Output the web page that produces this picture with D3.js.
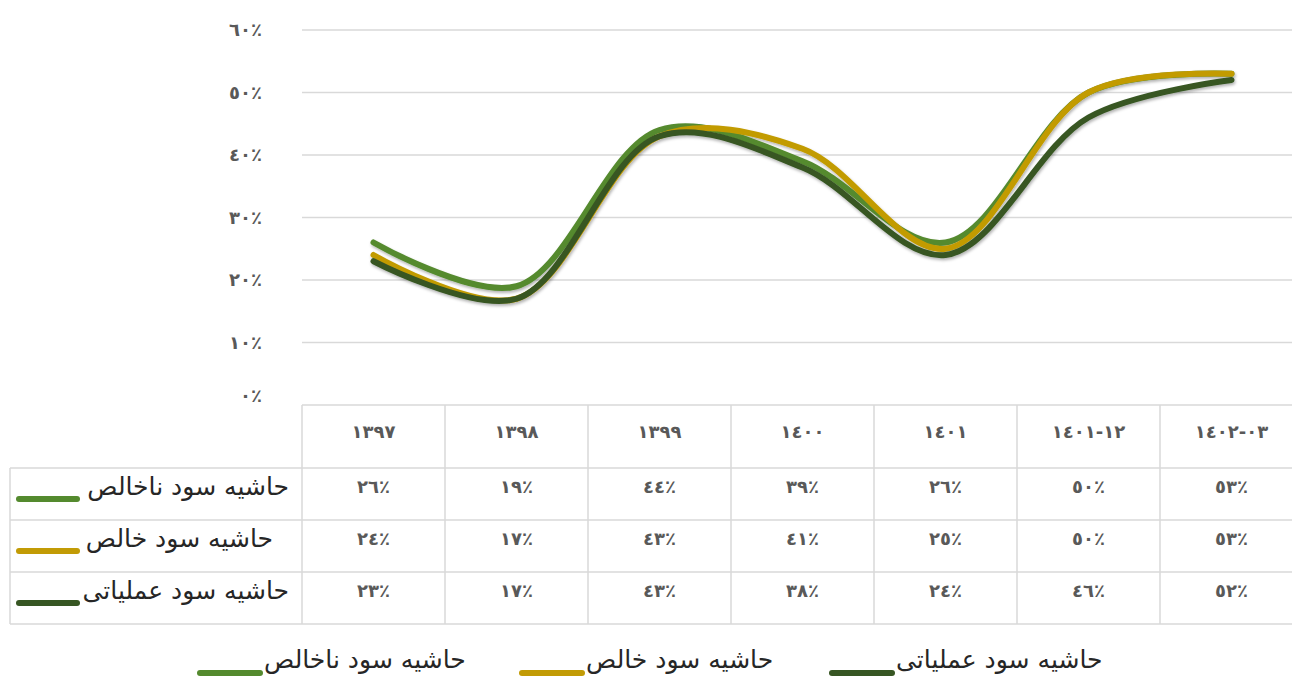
<!DOCTYPE html>
<html>
<head>
<meta charset="utf-8">
<script src="https://cdn.jsdelivr.net/npm/d3@7"></script>
<style>
  body { margin: 0; background: #fff; }
  svg { display: block; font-family: "DejaVu Sans", "Noto Sans", sans-serif; }
  .num { direction: ltr; unicode-bidi: bidi-override; font-weight: bold; }
</style>
</head>
<body>
<svg id="chart" width="1292" height="682"></svg>
<script>
// categories (years) and the three margin series, in percent
var years = ["1397", "1398", "1399", "1400", "1401", "1401-12", "1402-03"];
var grossMargin = [26, 19, 44, 39, 26, 50, 53];
var netMargin = [24, 17, 43, 41, 25, 50, 53];
var operatingMargin = [23, 17, 43, 38, 24, 46, 52];
var seriesNames = ["حاشیه سود ناخالص", "حاشیه سود خالص", "حاشیه سود عملیاتی"];
var seriesColors = ["#548a2e", "#c29b05", "#375623"];
var yTicks = [0, 10, 20, 30, 40, 50, 60];

var series = [grossMargin, netMargin, operatingMargin].map(function(v, i) {
    return { name: seriesNames[i], color: seriesColors[i], values: v };
});

// western digits -> arabic-indic digits
function toArabicDigits(s) {
    return String(s).replace(/[0-9]/g, function(d) { return "٠١٢٣٤٥٦٧٨٩"[+d]; });
}
function pct(v) { return toArabicDigits(v) + "٪"; }

var svg = d3.select("#chart");

var plot = { left: 302, right: 1303, top: 30, bottom: 405 };
var table = { left: 10, header: 468, rowH: 52 };
var numSize = 18, labelSize = 25;

var x = d3.scaleBand().domain(years).range([plot.left, plot.right]);
var y = d3.scaleLinear().domain([0, 60]).range([plot.bottom, plot.top]);

var defs = svg.append("defs");
var shadow = defs.append("filter").attr("id", "shadow")
    .attr("x", "-5%").attr("y", "-5%").attr("width", "110%").attr("height", "120%");
shadow.append("feDropShadow")
    .attr("dx", 1).attr("dy", 2).attr("stdDeviation", 1.5)
    .attr("flood-color", "#000").attr("flood-opacity", 0.3);

// gridlines
svg.append("g").selectAll("line")
    .data(yTicks.filter(function(t) { return t > 0; }))
    .enter().append("line")
    .attr("x1", plot.left).attr("x2", 1292)
    .attr("y1", function(d) { return y(d); })
    .attr("y2", function(d) { return y(d); })
    .attr("stroke", "#d9d9d9").attr("stroke-width", 1.5);

// y axis labels
var yAxis = svg.append("g")
    .attr("transform", "translate(" + 262 + ",0)")
    .call(d3.axisLeft(y).tickValues(yTicks).tickSize(0).tickPadding(0).tickFormat(pct));
yAxis.select(".domain").remove();
yAxis.selectAll("text")
    .attr("class", "num")
    .attr("font-family", "DejaVu Sans, sans-serif")
    .attr("font-size", numSize)
    .attr("fill", "#595959")
    .attr("dy", function(d) { return d === 0 ? "-0.2em" : "0.32em"; });

// data table grid
var tg = svg.append("g").attr("stroke", "#d9d9d9").attr("stroke-width", 1.5);
tg.append("line").attr("x1", plot.left).attr("x2", 1292)
    .attr("y1", plot.bottom).attr("y2", plot.bottom);
[0, 1, 2, 3].forEach(function(i) {
    var yy = table.header + i * table.rowH;
    tg.append("line").attr("x1", table.left).attr("x2", 1292).attr("y1", yy).attr("y2", yy);
});
tg.append("line").attr("x1", table.left).attr("x2", table.left)
    .attr("y1", table.header).attr("y2", table.header + 3 * table.rowH);
tg.selectAll("line.col")
    .data(years)
    .enter().append("line").attr("class", "col")
    .attr("x1", function(d) { return x(d); })
    .attr("x2", function(d) { return x(d); })
    .attr("y1", plot.bottom).attr("y2", table.header + 3 * table.rowH);

// header row: years
svg.append("g").selectAll("text")
    .data(years)
    .enter().append("text")
    .attr("class", "num")
    .attr("x", function(d) { return x(d) + x.bandwidth() / 2; })
    .attr("y", 433)
    .attr("text-anchor", "middle").attr("dominant-baseline", "middle")
    .attr("font-size", numSize)
    .attr("fill", "#595959")
    .text(function(d) { return toArabicDigits(d); });

// value rows
series.forEach(function(s, i) {
    var rowTop = table.header + i * table.rowH;
    var row = svg.append("g");
    row.selectAll("text")
        .data(s.values)
        .enter().append("text")
        .attr("class", "num")
        .attr("x", function(d, j) { return x(years[j]) + x.bandwidth() / 2; })
        .attr("y", rowTop + 20)
        .attr("text-anchor", "middle").attr("dominant-baseline", "middle")
        .attr("font-size", numSize)
        .attr("fill", "#595959")
        .text(pct);

    row.append("line")
        .attr("x1", 19).attr("x2", 77)
        .attr("y1", rowTop + 31).attr("y2", rowTop + 31)
        .attr("stroke", s.color).attr("stroke-width", 6).attr("stroke-linecap", "round");
    row.append("text")
        .attr("x", i === 1 ? 273 : 289)
        .attr("y", rowTop + 20)
        .attr("text-anchor", "end").attr("dominant-baseline", "middle")
        .attr("font-size", labelSize).attr("fill", "#262626")
        .text(s.name);
});

// lines
var line = d3.line()
    .x(function(d, i) { return x(years[i]) + x.bandwidth() / 2; })
    .y(function(d) { return y(d); })
    .curve(d3.curveCatmullRom.alpha(0.5));

svg.append("g").attr("filter", "url(#shadow)")
    .selectAll("path")
    .data(series)
    .enter().append("path")
    .attr("d", function(d) { return line(d.values); })
    .attr("fill", "none")
    .attr("stroke", function(d) { return d.color; })
    .attr("stroke-width", 6)
    .attr("stroke-linecap", "round");

// bottom legend (drawn right to left)
var legendX = [832, 522, 200];
var legend = svg.append("g").selectAll("g")
    .data(series.slice().reverse())
    .enter().append("g")
    .attr("transform", function(d, i) { return "translate(" + legendX[i] + ",0)"; });
legend.append("line")
    .attr("x1", 0).attr("x2", 60).attr("y1", 673).attr("y2", 673)
    .attr("stroke", function(d) { return d.color; })
    .attr("stroke-width", 6).attr("stroke-linecap", "round");
legend.append("text")
    .attr("x", 64).attr("y", 661)
    .attr("dominant-baseline", "middle")
    .attr("font-size", labelSize).attr("fill", "#262626")
    .text(function(d) { return d.name; });
</script>
</body>
</html>
